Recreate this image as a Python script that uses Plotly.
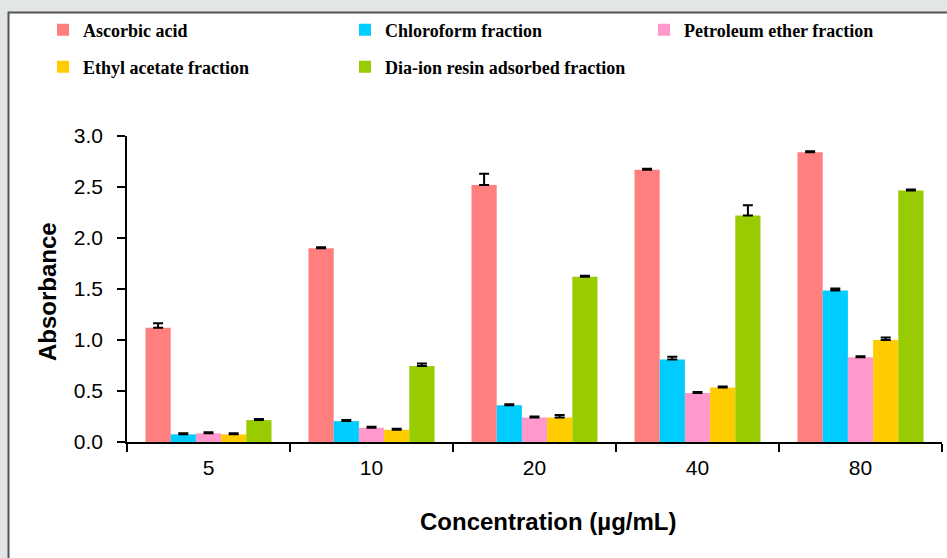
import plotly.graph_objects as go

categories = ["5", "10", "20", "40", "80"]
series_names = ["Ascorbic acid", "Chloroform fraction", "Petroleum ether fraction",
                "Ethyl acetate fraction", "Dia-ion resin adsorbed fraction"]
ascorbic = [1.12, 1.90, 2.52, 2.67, 2.84]
chloroform = [0.075, 0.205, 0.36, 0.81, 1.485]
petroleum = [0.085, 0.14, 0.24, 0.48, 0.83]
ethyl = [0.075, 0.12, 0.24, 0.535, 1.0]
diaion = [0.215, 0.745, 1.62, 2.22, 2.465]
err_ascorbic = [0.045, 0.01, 0.11, 0.01, 0.01]
err_chloroform = [0.012, 0.01, 0.01, 0.025, 0.02]
err_petroleum = [0.01, 0.01, 0.01, 0.01, 0.01]
err_ethyl = [0.01, 0.01, 0.025, 0.01, 0.025]
err_diaion = [0.01, 0.025, 0.01, 0.1, 0.01]
colors = ["#FF7F7F", "#00CCFF", "#FF99CC", "#FFCC00", "#99CC00"]

values = [ascorbic, chloroform, petroleum, ethyl, diaion]
errors = [err_ascorbic, err_chloroform, err_petroleum, err_ethyl, err_diaion]

W, H = 947, 558
L, R, T, B = 127, 5, 136, 116
PW, PH = W - L - R, H - T - B

def px(x):
    return (x - L) / PW

def py(y):
    return (H - B - y) / PH

# legend positions (left of legend box in px, row center y in px), container coords
leg_pos = [(43, 30), (345, 30), (644, 30), (43, 67), (345, 67)]

fig = go.Figure()
for i, (name, vals, errs, col) in enumerate(zip(series_names, values, errors, colors)):
    lg = "legend" if i == 0 else f"legend{i+1}"
    fig.add_trace(go.Bar(
        x=categories, y=vals, name=name, marker_color=col,
        marker_line_width=0,
        error_y=dict(type="data", array=errs, arrayminus=[0]*len(errs), symmetric=False,
                     color="black", thickness=2, width=5),
        legend=lg,
    ))

legend_layouts = {}
for i, (lx, ly) in enumerate(leg_pos):
    key = "legend" if i == 0 else f"legend{i+1}"
    legend_layouts[key] = dict(
        xref="container", yref="container",
        x=lx / W, y=1 - ly / H, xanchor="left", yanchor="middle",
        orientation="h", bgcolor="rgba(0,0,0,0)", borderwidth=0,
        font=dict(family="Liberation Serif", size=18, color="black", weight="bold"),
        itemwidth=30,
    )

fig.update_layout(
    width=W, height=H,
    margin=dict(l=L, r=R, t=T, b=B, autoexpand=False),
    paper_bgcolor="#e2e6e6",
    plot_bgcolor="rgba(0,0,0,0)",
    barmode="group", bargap=0.227, bargroupgap=0,
    showlegend=True,
    font=dict(family="Liberation Sans", color="black"),
    **legend_layouts,
)

fig.update_xaxes(
    type="category", tickson="boundaries", ticks="outside", ticklen=8, tickwidth=1.5,
    tickcolor="black", showline=True, linecolor="black", linewidth=1.5,
    tickfont=dict(family="Liberation Sans", size=21, color="black"),
    ticklabelstandoff=6,
    showgrid=False, zeroline=False,
)
fig.update_yaxes(
    range=[0, 3], dtick=0.5, tickformat=".1f", ticks="outside", ticklen=8, tickwidth=1.5,
    tickcolor="black", showline=True, linecolor="black", linewidth=1.5,
    tickfont=dict(family="Liberation Sans", size=21, color="black"),
    ticklabelstandoff=10,
    showgrid=False, zeroline=False,
)

# white panel with dark frame
fig.add_shape(type="rect", xref="paper", yref="paper", layer="below",
              x0=px(8.5), x1=px(980), y0=py(600), y1=py(12.5),
              fillcolor="white", line=dict(color="#555555", width=2))

fig.add_annotation(text="<b>Absorbance</b>", xref="paper", yref="paper",
                   x=px(47), y=py(292), textangle=-90, showarrow=False,
                   xanchor="center", yanchor="middle",
                   font=dict(family="Liberation Sans", size=24, color="black"))
fig.add_annotation(text="<b>Concentration (\u00b5g/mL)</b>", xref="paper", yref="paper",
                   x=px(548), y=py(521), showarrow=False,
                   xanchor="center", yanchor="middle",
                   font=dict(family="Liberation Sans", size=24, color="black"))

fig.write_html("out.html", config={"displayModeBar": False},
               post_script="document.body.style.margin='0';")
